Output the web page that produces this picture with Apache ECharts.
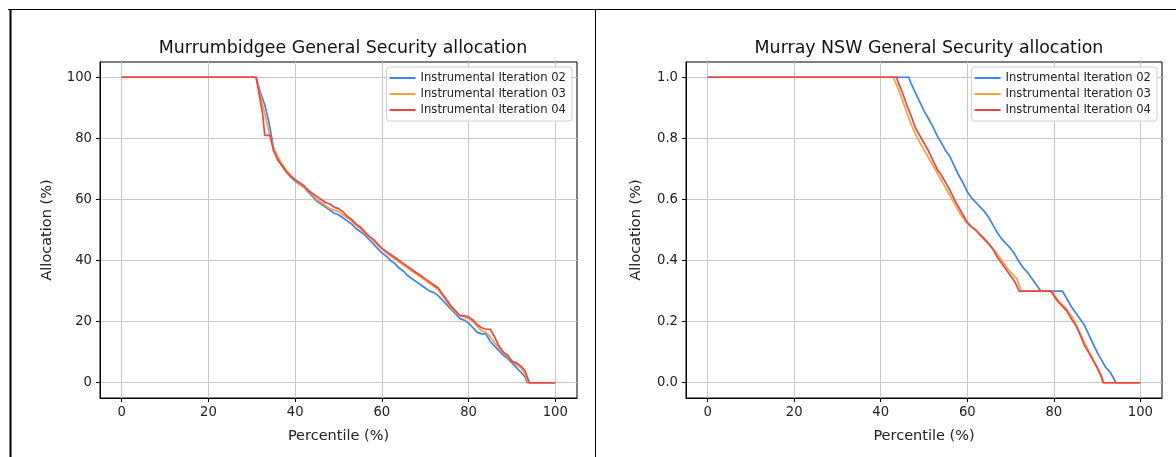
<!DOCTYPE html>
<html>
<head>
<meta charset="utf-8">
<script src="https://cdn.jsdelivr.net/npm/echarts@6/dist/echarts.min.js"></script>
<style>
  html, body { margin: 0; padding: 0; background: #fff; }
  #chart { width: 1176px; height: 457px; }
</style>
</head>
<body>
<div id="chart"></div>
<script>
// legend names
const seriesNames = ['Instrumental Iteration 02', 'Instrumental Iteration 03', 'Instrumental Iteration 04'];
const seriesColors = ['#3b82f6', '#f7a23e', '#ef4444'];

// tick values
const pctTicks = [0, 20, 40, 60, 80, 100];
const mbTicks = [0, 20, 40, 60, 80, 100];
const mnTicks = [0, 0.2, 0.4, 0.6, 0.8, 1.0];

// Murrumbidgee: [percentile, allocation %]
const mbIter02 = [[0,100],[31,100],[32,95],[33,91],[34,85],[35,77],[36,73],[37,71],[38,69],[39,67.5],[40,66],[41,65],[42,64],[43,62.5],[44,61],[45,59.5],[46,58.5],[47,57.5],[48,56.5],[49,55.5],[50,55],[51,54],[52,53],[53,52],[54,50.5],[55,49.5],[56,48.5],[57,47],[58,45.5],[59,44],[60,42.5],[61,41.5],[62,40],[63,39],[64,37.5],[65,36.5],[66,35],[67,34],[68,33],[69,32],[70,31],[71,30],[72,29.5],[73,28.5],[74,27],[75,25.5],[76,24],[77,22.5],[78,21],[79,20.5],[80,19.5],[81,18],[82,16.5],[83,16],[84,16],[85,13.5],[86,12],[87,10.5],[88,9],[89,8],[90,6.5],[91,5],[92,3.5],[93,2],[93.5,0],[100,0]];
const mbIter03 = [[0,100],[31,100],[32,94],[33,88],[34,82],[35,77],[36,74],[37,71.5],[38,69.5],[39,68],[40,66.5],[41,65],[42,64],[43,63],[44,61.5],[45,60],[46,59],[47,58],[48,57],[49,56.5],[50,56],[51,55],[52,54],[53,53],[54,51.5],[55,50.5],[56,49],[57,48],[58,46.5],[59,45],[60,44],[61,42.5],[62,41.5],[63,40.5],[64,39.5],[65,38.5],[66,37.5],[67,36.5],[68,35.5],[69,34.5],[70,33.5],[71,32.5],[72,31.5],[73,30.5],[74,28.5],[75,26.5],[76,24.5],[77,23],[78,22],[79,21.5],[80,21],[81,20],[82,18.5],[83,17],[84,16.5],[85,15],[86,13],[87,11.5],[88,10],[89,8.5],[90,7],[91,6],[92,5],[93,3],[93.7,0],[100,0]];
const mbIter04 = [[0,100],[31,100],[32.5,88],[33,81],[34.2,81],[35,76],[36,73],[37,71],[38,69],[39,67.5],[40,66.5],[41,65.5],[42,64.5],[43,63],[44,62],[45,61],[46,60],[47,59],[48,58.5],[49,57.5],[50,57],[51,56],[52,54.5],[53,53.5],[54,52],[55,51],[56,49.5],[57,48],[58,47],[59,45.5],[60,44],[61,43],[62,42],[63,41],[64,40],[65,39],[66,38],[67,37],[68,36],[69,35],[70,34],[71,33],[72,32],[73,31],[74,29],[75,27],[76,25],[77,23.5],[78,22],[79,22],[80,21.5],[81,20.5],[82,19],[83,18],[84,17.5],[85,17.5],[86,15],[87,12],[88,10],[89,9],[90,7],[91,6.5],[92,5.5],[93,4],[94,0],[100,0]];

// Murray NSW: [percentile, allocation fraction]
const mnIter02 = [[0,1],[46.5,1],[47,0.98],[48,0.95],[49,0.92],[50,0.89],[51,0.865],[52,0.84],[53,0.81],[54,0.785],[55,0.76],[56,0.74],[57,0.71],[58,0.68],[59,0.655],[60,0.625],[61,0.605],[62,0.59],[63,0.575],[64,0.56],[65,0.54],[66,0.515],[67,0.49],[68,0.47],[69,0.455],[70,0.44],[71,0.42],[72,0.395],[73,0.375],[74,0.36],[75,0.34],[76,0.32],[77,0.3],[82,0.3],[83,0.275],[84,0.25],[85,0.23],[86,0.21],[87,0.19],[88,0.16],[89,0.13],[90,0.1],[91,0.075],[92,0.05],[93,0.035],[94,0.01],[94.3,0],[100,0]];
const mnIter03 = [[0,1],[42.9,1],[43.5,0.98],[44.5,0.945],[45.5,0.905],[46.5,0.865],[47.5,0.83],[48.5,0.8],[49.5,0.775],[50.5,0.75],[51.5,0.725],[52.5,0.7],[53.5,0.675],[54.5,0.65],[55.5,0.625],[56.5,0.6],[57.5,0.575],[58.5,0.55],[59.5,0.53],[60.5,0.515],[61.5,0.505],[62.5,0.49],[63.5,0.475],[64.5,0.46],[65.5,0.445],[66.5,0.43],[67.5,0.41],[68.5,0.39],[69.5,0.37],[70.5,0.355],[71.5,0.34],[72.5,0.3],[79.4,0.3],[80,0.29],[81,0.27],[82,0.255],[83,0.24],[84,0.22],[85,0.195],[86,0.165],[87,0.135],[88,0.105],[89,0.08],[90,0.05],[91,0.02],[91.2,0],[100,0]];
const mnIter04 = [[0,1],[43.7,1],[44,0.985],[45,0.95],[46,0.91],[47,0.875],[48,0.835],[49,0.81],[50,0.785],[51,0.76],[52,0.73],[53,0.7],[54,0.68],[55,0.655],[56,0.63],[57,0.6],[58,0.575],[59,0.55],[60,0.525],[61,0.51],[62,0.5],[63,0.485],[64,0.47],[65,0.455],[66,0.435],[67,0.41],[68,0.39],[69,0.37],[70,0.35],[71,0.33],[72,0.3],[79.4,0.3],[80,0.285],[81,0.265],[82,0.25],[83,0.235],[84,0.21],[85,0.19],[86,0.16],[87,0.125],[88,0.1],[89,0.075],[90,0.05],[91,0.02],[91.5,0],[100,0]];

const FONT = 'DejaVu Sans';
const chart = echarts.init(document.getElementById('chart'), null, { renderer: 'canvas' });

// shared axis look, matplotlib-like
const xAxisFor = (gridIndex) => ({
  type: 'value',
  gridIndex,
  min: -5,
  max: 105,
  name: 'Percentile (%)',
  nameLocation: 'middle',
  nameGap: 31,
  nameTextStyle: { fontFamily: FONT, fontSize: 14.5, color: '#222' },
  axisLine: { show: true, onZero: false, lineStyle: { color: '#000', width: 1 } },
  axisTick: { show: true, length: 4, customValues: pctTicks, lineStyle: { color: '#000' } },
  axisLabel: { customValues: pctTicks, margin: 8, fontFamily: FONT, fontSize: 13.2, color: '#222' },
  splitLine: { show: true, lineStyle: { color: '#c8c8c8', width: 1 } }
});

const yAxisFor = (gridIndex, ticks, lo, hi, fmt, gap) => ({
  type: 'value',
  gridIndex,
  min: lo,
  max: hi,
  name: 'Allocation (%)',
  nameLocation: 'middle',
  nameGap: gap,
  nameTextStyle: { fontFamily: FONT, fontSize: 14.5, color: '#222' },
  axisLine: { show: true, onZero: false, lineStyle: { color: '#000', width: 1 } },
  axisTick: { show: true, length: 4, customValues: ticks, lineStyle: { color: '#000' } },
  axisLabel: { customValues: ticks, margin: 8, fontFamily: FONT, fontSize: 13.2, color: '#222', formatter: fmt },
  splitLine: { show: true, lineStyle: { color: '#c8c8c8', width: 1 } }
});

const lineSeries = (name, data, idx, color) => ({
  name,
  type: 'line',
  xAxisIndex: idx,
  yAxisIndex: idx,
  data,
  showSymbol: false,
  animation: false,
  lineStyle: { color, width: 1.7 },
  itemStyle: { color }
});

const legendFor = (right) => ({
  data: seriesNames,
  orient: 'vertical',
  right,
  top: 67,
  icon: 'rect',
  itemWidth: 26,
  itemHeight: 2,
  itemGap: 2,
  padding: [4, 6, 4, 3],
  backgroundColor: 'rgba(255,255,255,0.85)',
  borderColor: '#d0d0d0',
  borderWidth: 1,
  borderRadius: 3,
  textStyle: { fontFamily: FONT, fontSize: 11.6, lineHeight: 14, color: '#222' }
});

const option = {
  animation: false,
  title: [
    { text: 'Murrumbidgee General Security allocation', left: 338, top: 35, textAlign: 'center',
      textStyle: { fontFamily: FONT, fontSize: 17.4, fontWeight: 'normal', color: '#111' } },
    { text: 'Murray NSW General Security allocation', left: 924, top: 35, textAlign: 'center',
      textStyle: { fontFamily: FONT, fontSize: 17.4, fontWeight: 'normal', color: '#111' } }
  ],
  legend: [legendFor(1176 - 572), legendFor(1176 - 1157)],
  grid: [
    { left: 100, top: 62, width: 477, height: 336, show: true, borderColor: '#000', borderWidth: 1, backgroundColor: 'transparent' },
    { left: 686, top: 62, width: 476, height: 336, show: true, borderColor: '#000', borderWidth: 1, backgroundColor: 'transparent' }
  ],
  xAxis: [xAxisFor(0), xAxisFor(1)],
  yAxis: [
    yAxisFor(0, mbTicks, -5, 105, (v) => String(v), 45),
    yAxisFor(1, mnTicks, -0.05, 1.05, (v) => v.toFixed(1), 42)
  ],
  graphic: [
    { type: 'line', shape: { x1: 8, y1: 9.5, x2: 1176, y2: 9.5 }, style: { stroke: '#000', lineWidth: 1 } },
    { type: 'line', shape: { x1: 10.5, y1: 9, x2: 10.5, y2: 457 }, style: { stroke: '#000', lineWidth: 2 } },
    { type: 'line', shape: { x1: 595.5, y1: 9, x2: 595.5, y2: 457 }, style: { stroke: '#000', lineWidth: 1 } }
  ],
  series: [
    lineSeries(seriesNames[0], mbIter02, 0, seriesColors[0]),
    lineSeries(seriesNames[1], mbIter03, 0, seriesColors[1]),
    lineSeries(seriesNames[2], mbIter04, 0, seriesColors[2]),
    lineSeries(seriesNames[0], mnIter02, 1, seriesColors[0]),
    lineSeries(seriesNames[1], mnIter03, 1, seriesColors[1]),
    lineSeries(seriesNames[2], mnIter04, 1, seriesColors[2])
  ]
};

chart.setOption(option);
</script>
</body>
</html>
